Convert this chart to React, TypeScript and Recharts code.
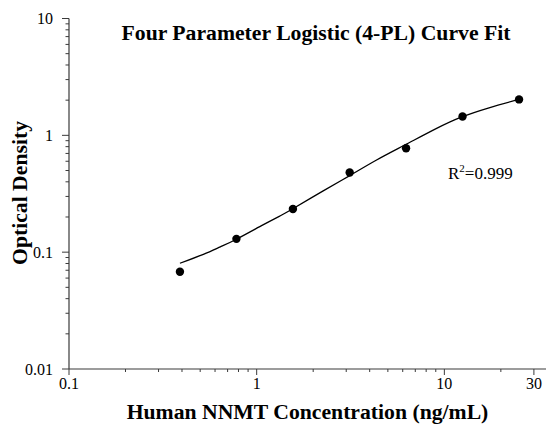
import React from "react";
import { ScatterChart, Scatter, XAxis, YAxis } from "recharts";

// standards (ng/mL) and measured OD
const concentrations = [0.39, 0.78, 1.56, 3.13, 6.25, 12.5, 25];
const odValues = [0.068, 0.13, 0.234, 0.48, 0.775, 1.45, 2.03];

// fitted 4-PL curve
const fitConc = [0.39, 0.52, 0.64, 0.78, 1.08, 1.33, 1.55, 2.25, 3.1, 4.33, 6.12, 9.04, 12.3, 17.3, 25];
const fitOd = [0.0804, 0.0959, 0.111, 0.129, 0.171, 0.204, 0.234, 0.333, 0.448, 0.612, 0.822, 1.14, 1.43, 1.72, 2.03];

const xMajor = [0.1, 1, 10, 30];
const xTicks = [0.1, 0.2, 0.3, 0.4, 0.5, 0.6, 0.7, 0.8, 0.9, 1, 2, 3, 4, 5, 6, 7, 8, 9, 10, 20, 30];
const yMajor = [0.01, 0.1, 1, 10];
const yTicks = [
  0.01, 0.02, 0.03, 0.04, 0.05, 0.06, 0.07, 0.08, 0.09,
  0.1, 0.2, 0.3, 0.4, 0.5, 0.6, 0.7, 0.8, 0.9,
  1, 2, 3, 4, 5, 6, 7, 8, 9, 10,
];

const points = concentrations.map((x, i) => ({ x, y: odValues[i] }));
const curve = fitConc.map((x, i) => ({ x, y: fitOd[i] }));

const FONT = '"Liberation Serif", "Times New Roman", serif';
const AXIS = "#3a3a3a";

function XTick(props: any) {
  const { x, y, payload } = props;
  const major = xMajor.includes(payload.value);
  return (
    <g>
      <line x1={x} x2={x} y1={y} y2={y + (major ? 6 : 3)} stroke={AXIS} strokeWidth={1} />
      {major && (
        <text x={x} y={y + 20} textAnchor="middle" fontFamily={FONT} fontSize={16} fill="#000">
          {payload.value}
        </text>
      )}
    </g>
  );
}

function YTick(props: any) {
  const { x, y, payload } = props;
  const major = yMajor.includes(payload.value);
  return (
    <g>
      <line x1={x - (major ? 7 : 3.5)} x2={x} y1={y} y2={y} stroke={AXIS} strokeWidth={1} />
      {major && (
        <text x={x - 16} y={y} dy="0.35em" textAnchor="end" fontFamily={FONT} fontSize={16} fill="#000">
          {payload.value}
        </text>
      )}
    </g>
  );
}

export default function App() {
  return (
    <div style={{ position: "absolute", left: 0, top: 0, width: 547, height: 425, background: "#fff" }}>
      <ScatterChart width={547} height={425} margin={{ top: 18.5, right: 1, bottom: 0, left: 0 }}>
        <XAxis
          type="number"
          dataKey="x"
          scale="log"
          domain={[0.1, 34.8]}
          allowDataOverflow
          ticks={xTicks}
          interval={0}
          tickSize={0}
          tickMargin={0}
          tick={<XTick />}
          height={56}
          axisLine={{ stroke: AXIS, strokeWidth: 1.2 }}
        />
        <YAxis
          type="number"
          dataKey="y"
          scale="log"
          domain={[0.01, 10]}
          allowDataOverflow
          ticks={yTicks}
          interval={0}
          tickSize={0}
          tickMargin={0}
          tick={<YTick />}
          width={69}
          axisLine={{ stroke: AXIS, strokeWidth: 1.2 }}
        />
        <Scatter
          data={curve}
          line={{ stroke: "#000", strokeWidth: 1.3 }}
          lineJointType="natural"
          shape={() => <g />}
          isAnimationActive={false}
        />
        <Scatter
          data={points}
          fill="#000"
          shape={(p: any) => <circle cx={p.cx} cy={p.cy} r={4.2} fill="#000" />}
          isAnimationActive={false}
        />
      </ScatterChart>
      <svg width={547} height={425} style={{ position: "absolute", left: 0, top: 0, pointerEvents: "none" }}>
        <text x={316} y={40} textAnchor="middle" fontFamily={FONT} fontWeight="bold" fontSize={21.7} fill="#000">
          Four Parameter Logistic (4-PL) Curve Fit
        </text>
        <text x={448} y={179} fontFamily={FONT} fontSize={17} fill="#000">
          R<tspan dy={-7} fontSize={11}>2</tspan>
          <tspan dy={7}>=0.999</tspan>
        </text>
        <text x={307.5} y={419} textAnchor="middle" fontFamily={FONT} fontWeight="bold" fontSize={21.7} fill="#000">
          Human NNMT Concentration (ng/mL)
        </text>
        <text
          transform="translate(27,193) rotate(-90)"
          textAnchor="middle"
          fontFamily={FONT}
          fontWeight="bold"
          fontSize={21.7}
          fill="#000"
        >
          Optical Density
        </text>
      </svg>
    </div>
  );
}
